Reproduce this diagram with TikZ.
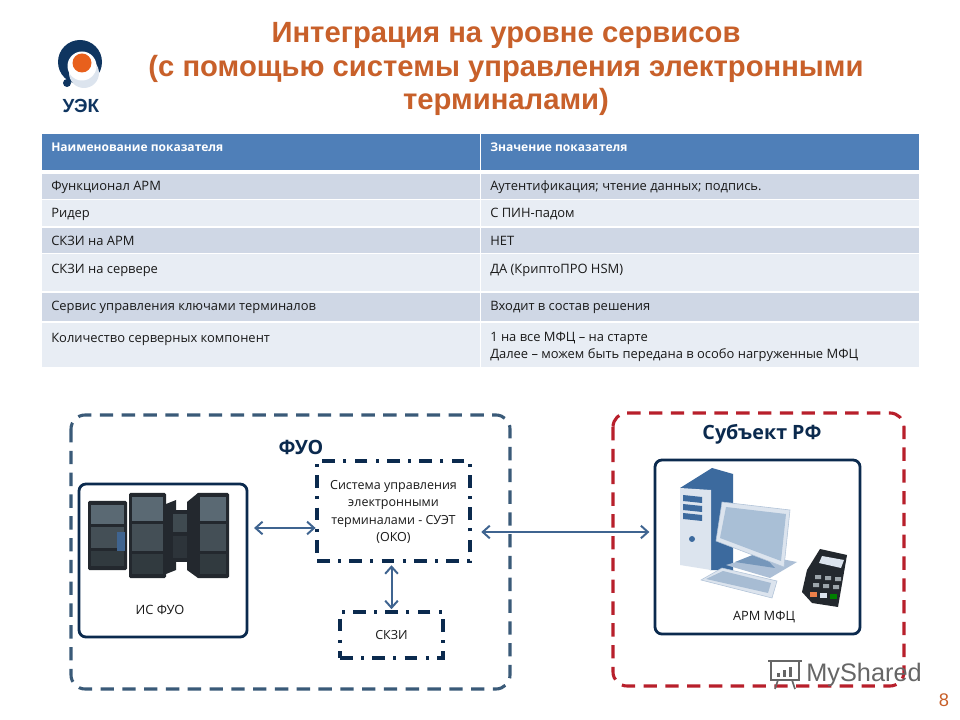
\documentclass[tikz,border=0pt]{standalone}
\usepackage{fontspec}
\setmainfont{Open Sans}
\newfontfamily\titlefont{Liberation Sans}
\usetikzlibrary{arrows.meta}
\definecolor{titleorange}{HTML}{C8602A}
\definecolor{logoblue}{HTML}{0F3560}
\definecolor{logoorange}{HTML}{E8601C}
\definecolor{headblue}{HTML}{4F7FB8}
\definecolor{rowdark}{HTML}{CFD7E5}
\definecolor{rowlight}{HTML}{E8EDF4}
\definecolor{navy}{HTML}{0B2A4E}
\definecolor{framegrey}{HTML}{3A5A78}
\definecolor{framered}{HTML}{B81F2B}
\definecolor{linkblue}{HTML}{3F6490}
\definecolor{rackdark}{HTML}{23282E}
\definecolor{rackglass}{HTML}{5A6973}
\definecolor{pcblue}{HTML}{3C6A9E}
\definecolor{pclight}{HTML}{DCE4EE}
\definecolor{pcscreen}{HTML}{A9BFD6}
\newcommand{\serverrack}[4]{
	\path[fill=rackdark,rounded corners=1pt] (#1,#2) rectangle (#3,#4);
	\path[fill=rackglass] (#1+3,#2+4) rectangle (#3-3,{#2+(#4-#2)*0.33});
	\path[fill=rackglass!75!black] (#1+3,{#2+(#4-#2)*0.33+3}) rectangle (#3-3,{#2+(#4-#2)*0.68});
	\path[fill=rackglass!55!black] (#1+3,{#2+(#4-#2)*0.68+3}) rectangle (#3-3,#4-4);
}
\begin{document}
\begin{tikzpicture}[x=0.025cm,y=-0.025cm]
		\tikzstyle{titleline}=[font=\titlefont\bfseries\fontsize{20.8}{23.6}\selectfont,text=titleorange,align=center,inner sep=0pt];
		\tikzstyle{cell}=[font=\fontsize{9.2}{12}\selectfont,text=black!90,anchor=west,align=left,inner sep=0pt,text height=9pt,text depth=2pt];
		\tikzstyle{headcell}=[cell,font=\bfseries\fontsize{8.55}{12}\selectfont,text=white];
		\tikzstyle{solidbox}=[draw=navy,line width=2pt,rounded corners=5pt,fill=white,inner sep=0pt,outer sep=0pt];
		\tikzstyle{dotbox}=[draw=navy,line width=2.2pt,dash pattern=on 9pt off 6pt on 2pt off 6pt,fill=white,inner sep=0pt,outer sep=0pt,font=\fontsize{8.9}{12.2}\selectfont,align=center,text=black!90];
		\tikzstyle{boxlabel}=[font=\fontsize{9.1}{10}\selectfont,text=black!90,inner sep=0pt];
		\tikzstyle{grouplabel}=[font=\bfseries\fontsize{14}{16}\selectfont,text=navy,inner sep=0pt];
		\tikzstyle{link}=[<->,draw=linkblue,line width=1.4pt,>={Straight Barb[length=5pt,width=9pt]}];
		\useasboundingbox (0,0) rectangle (960,720);
		\path[fill=white] (0,0) rectangle (960,720);

		\path[fill=logoblue] (80,62) circle (22);
		\path[fill=pclight] (84,73) circle (15);
		\path[fill=white] (82,66) circle (14.5);
		\path[fill=logoorange] (82,63) circle (9.5);
		\path[fill=logoblue] (67,83) circle (4);
		\node[inner sep=0pt,text=logoblue,font=\titlefont\bfseries\fontsize{13.5}{14}\selectfont] (logotext) at (81,106) {УЭК};

		\node[titleline] (title) at (506,69) {Интеграция на уровне сервисов\\(с помощью системы управления электронными\\терминалами)};

		\path[fill=headblue] (42,134) rectangle (480,170);
		\path[fill=headblue] (481,134) rectangle (919,170);
		\path[fill=rowdark] (42,174) rectangle (480,199);
		\path[fill=rowdark] (481,174) rectangle (919,199);
		\path[fill=rowlight] (42,200) rectangle (480,226);
		\path[fill=rowlight] (481,200) rectangle (919,226);
		\path[fill=rowdark] (42,228) rectangle (480,253);
		\path[fill=rowdark] (481,228) rectangle (919,253);
		\path[fill=rowlight] (42,254) rectangle (480,291);
		\path[fill=rowlight] (481,254) rectangle (919,291);
		\path[fill=rowdark] (42,293) rectangle (480,321);
		\path[fill=rowdark] (481,293) rectangle (919,321);
		\path[fill=rowlight] (42,323) rectangle (480,367);
		\path[fill=rowlight] (481,323) rectangle (919,367);

		\node[headcell] (namehead) at (51,147) {Наименование показателя};
		\node[headcell] (valuehead) at (490,147) {Значение показателя};
		\node[cell] (name1) at (51,186) {Функционал АРМ};
		\node[cell] (value1) at (490,186) {Аутентификация; чтение данных; подпись.};
		\node[cell] (name2) at (51,213) {Ридер};
		\node[cell] (value2) at (490,213) {С ПИН-падом};
		\node[cell] (name3) at (51,241) {СКЗИ на АРМ};
		\node[cell] (value3) at (490,241) {НЕТ};
		\node[cell] (name4) at (51,269) {СКЗИ на сервере};
		\node[cell] (value4) at (490,269) {ДА (КриптоПРО HSM)};
		\node[cell] (name5) at (51,306) {Сервис управления ключами терминалов};
		\node[cell] (value5) at (490,306) {Входит в состав решения};
		\node[cell] (name6) at (51,337.5) {Количество серверных компонент};
		\node[cell,text height=,text depth=] (value6) at (490,347) {1 на все МФЦ – на старте\\Далее – можем быть передана в особо нагруженные МФЦ};

		\path[draw=framegrey,line width=2.2pt,dash pattern=on 9.5pt off 6pt,rounded corners=10pt] (71,415) rectangle (510,689);
		\path[draw=framered,line width=2.2pt,dash pattern=on 9.5pt off 6pt,rounded corners=10pt] (613,413) rectangle (904,686);
		\node[grouplabel] (fuolabel) at (301,447) {ФУО};
		\node[grouplabel] (subjectlabel) at (762,434) {Субъект РФ};

		\node[solidbox,anchor=north west,minimum width=4.2cm,minimum height=3.825cm] (isfuo) at (79,484) {};
		\node[solidbox,anchor=north west,minimum width=5.125cm,minimum height=4.35cm] (armmfc) at (655,460) {};
		\node[dotbox,anchor=north west,minimum width=3.825cm,minimum height=2.5cm] (suet) at (317,461) {};
		\node[dotbox,draw=none,fill=none] (suettext) at (393.5,512) {Система управления\\электронными\\терминалами  - СУЭТ\\(ОКО)};
		\node[dotbox,anchor=north west,minimum width=2.575cm,minimum height=1.15cm] (skzi) at (340,612) {СКЗИ};

		\path[fill=rackdark] (166,504) -- (176,500) -- (176,570) -- (166,574) -- cycle;
		\path[fill=rackdark] (170,510) rectangle (192,562);
		\path[fill=rackglass!70!black] (173,514) rectangle (189,532);
		\path[fill=rackglass!50!black] (173,536) rectangle (189,558);
		\path[fill=rackdark] (187,502) -- (198,493) -- (198,578) -- (187,570) -- cycle;
		\serverrack{88}{501}{127}{570}
		\serverrack{129}{493}{166}{578}
		\serverrack{197}{493}{229}{578}
		\path[fill=linkblue] (117,532) rectangle (125,551);
		\node[boxlabel] (isfuolabel) at (160,609.5) {ИС ФУО};

		\path[fill=pcblue] (680,488) -- (712,468) -- (733,474) -- (733,570) -- (710,570) -- cycle;
		\path[fill=pclight] (680,488) -- (711,490) -- (711,570) -- (680,565) -- cycle;
		\path[fill=pcblue] (683,495) -- (702,497) -- (702,503) -- (683,501) -- cycle;
		\path[fill=pcblue] (683,504) -- (702,506) -- (702,512) -- (683,510) -- cycle;
		\path[fill=pcblue] (683,513) -- (702,515) -- (702,521) -- (683,519) -- cycle;
		\path[fill=pcblue] (692,539) circle (3);
		\path[fill=pclight!70!pcblue] (726,565) -- (760,555) -- (797,562) -- (770,578) -- cycle;
		\path[fill=pcblue!70] (735,562) -- (760,552) -- (775,568) -- cycle;
		\path[fill=pclight,draw=pcblue!40] (722,502) -- (790,510) -- (784,567) -- (716,541) -- cycle;
		\path[fill=pcscreen] (726,507) -- (786,514) -- (781,561) -- (720,538) -- cycle;
		\path[fill=pclight,draw=pcblue!40] (701,580) -- (722,568) -- (777,581) -- (772,598) -- cycle;
		\path[fill=pcblue!45] (706,579) -- (723,571) -- (771,583) -- (768,593) -- cycle;
		\path[fill=rackdark] (820,549) -- (847,555) -- (838,607) -- (812,603) -- (802,592) -- (807,570) -- cycle;
		\path[fill=pclight] (822,556) -- (844,560) -- (841,568) -- (819,563) -- cycle;
		\path[fill=rackglass!60!white] (815,575) rectangle (821,579) (825,576) rectangle (831,580) (835,577) rectangle (841,581);
		\path[fill=rackglass!60!white] (813,583) rectangle (819,587) (823,584) rectangle (829,588) (833,585) rectangle (839,589);
		\path[fill=logoorange!80!white] (810,592) rectangle (817,597);
		\path[fill=pclight] (820,593) rectangle (827,598);
		\path[fill=green!50!black] (830,594) rectangle (837,599);
		\node[boxlabel] (armlabel) at (764,617.5) {АРМ МФЦ};

		\coordinate (leftlink) at (0,528);
		\coordinate (rightlink) at (0,532);
		\path[link,shorten <=5pt,shorten >=1pt] (isfuo.east |- leftlink) -- (suet.west |- leftlink);
		\path[link,shorten <=8pt,shorten >=4pt] (suet.east |- rightlink) -- (armmfc.west |- rightlink);
		\path[link,shorten <=2pt,shorten >=3pt] (skzi.north) -- (skzi.north |- suet.south);

		\node[inner sep=0pt,text=black!60,font=\titlefont\fontsize{18}{20}\selectfont] (watermark) at (864,675) {MyShared};
		\path[draw=black!60,line width=1.2pt] (771,661) rectangle (799,680);
		\path[draw=black!60,line width=1.2pt] (768,661) -- (802,661);
		\path[draw=black!60,line width=1.2pt] (778,680) -- (775,689);
		\path[draw=black!60,line width=1.2pt] (792,680) -- (795,689);
		\path[fill=black!60] (777,673) rectangle (780,677);
		\path[fill=black!60] (783,670) rectangle (786,677);
		\path[fill=black!60] (789,667) rectangle (792,677);
		\node[inner sep=0pt,text=titleorange,font=\titlefont\fontsize{13}{14}\selectfont] (pagenum) at (944,700) {8};
\end{tikzpicture}
\end{document}
